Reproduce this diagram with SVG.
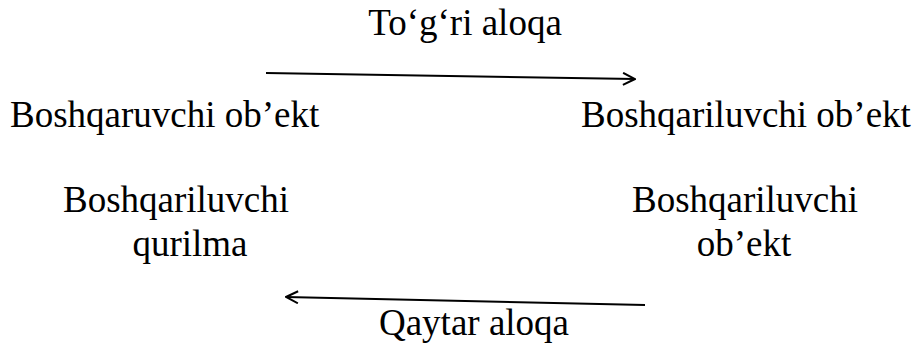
<svg xmlns="http://www.w3.org/2000/svg" width="915" height="350" viewBox="0 0 915 350">
<style>
.t { font-family: "Liberation Serif", "Times New Roman", Times, serif; font-size: 37px; fill: #000; }
.c { text-anchor: middle; }
.ln { stroke: #000; stroke-width: 2; fill: none; }
</style>
<defs>
<marker id="ah" viewBox="0 0 14 14" refX="13" refY="7" markerWidth="14" markerHeight="14" markerUnits="userSpaceOnUse" orient="auto">
<path d="M1,1 L13,7 L1,13" fill="none" stroke="#000" stroke-width="2"/>
</marker>
</defs>
<rect width="915" height="350" fill="#fff"/>
<g id="connectors">
<line class="ln" x1="266" y1="73" x2="635" y2="79" marker-end="url(#ah)"/>
<line class="ln" x1="645" y1="305" x2="286" y2="297" marker-end="url(#ah)"/>
</g>
<g id="label-direct"><text class="t c" x="465" y="35">To‘g‘ri aloqa</text></g>
<g id="node-controller"><text class="t" x="10" y="127">Boshqaruvchi ob’ekt</text></g>
<g id="node-controlled"><text class="t" x="581" y="127">Boshqariluvchi ob’ekt</text></g>
<g id="node-device"><text class="t c" x="176" y="212">Boshqariluvchi</text><text class="t c" x="190" y="256">qurilma</text></g>
<g id="node-object"><text class="t c" x="745" y="212">Boshqariluvchi</text><text class="t c" x="744" y="256">ob’ekt</text></g>
<g id="label-feedback"><text class="t c" x="474" y="335">Qaytar aloqa</text></g>
</svg>
